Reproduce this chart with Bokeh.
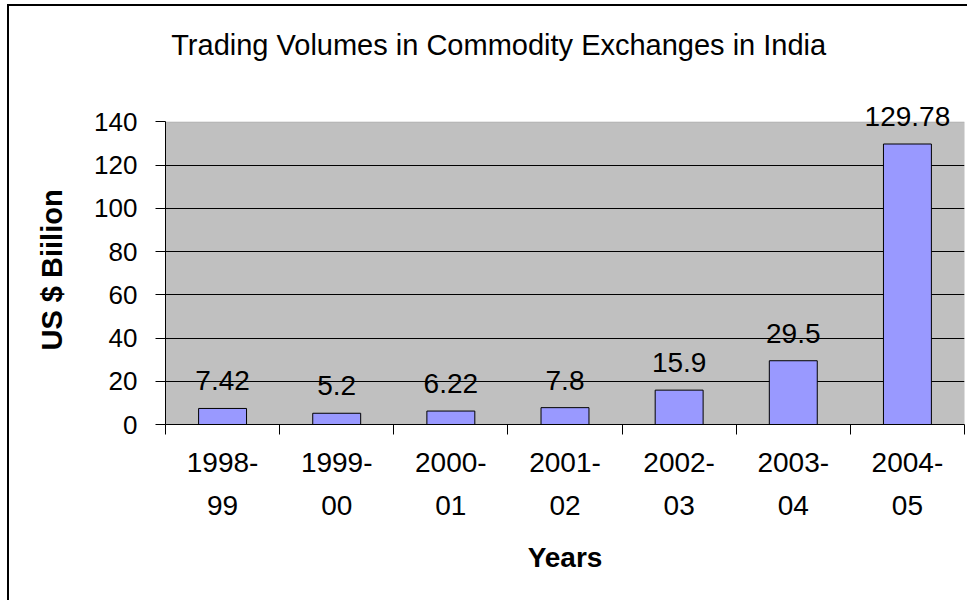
from bokeh.plotting import figure
from bokeh.models import ColumnDataSource, Range1d, FixedTicker, LabelSet, Label, BoxAnnotation, Title
from bokeh.core.properties import value
from bokeh.embed import file_html
from bokeh.resources import INLINE

years = ["1998-99", "1999-00", "2000-01", "2001-02", "2002-03", "2003-04", "2004-05"]
volumes = [7.42, 5.2, 6.22, 7.8, 15.9, 29.5, 129.78]
value_labels = ["7.42", "5.2", "6.22", "7.8", "15.9", "29.5", "129.78"]
y_ticks = [0, 20, 40, 60, 80, 100, 120, 140]
title_text = "Trading Volumes in Commodity Exchanges in India"
x_title = "Years"
y_title = "US $ Biilion"

FONT = "Liberation Sans"
Y_MAX = y_ticks[-1]
HEADROOM = 53.4  # white room above the plot area that holds the chart title

xpos = [i + 0.5 for i in range(len(years))]
src = ColumnDataSource(dict(x=xpos, top=volumes, lab=value_labels))

p = figure(width=960, height=596, output_backend="svg", toolbar_location=None,
           x_range=Range1d(0, len(years)), y_range=Range1d(0, Y_MAX + HEADROOM),
           min_border_left=156, min_border_right=5, min_border_top=0, min_border_bottom=178)

p.background_fill_color = "white"
p.border_fill_color = "white"
p.outline_line_color = None

# grey plot area with its darker grey border
p.add_layout(BoxAnnotation(bottom=0, top=Y_MAX, left=0, right=len(years), fill_color="#C0C0C0",
                           fill_alpha=1, line_color="#808080", line_width=1, level="image"))

p.vbar(x="x", top="top", width=0.42, source=src, fill_color="#9999FF", line_color="black", line_width=1)

labels = LabelSet(x="x", y="top", text="lab", source=src, text_align="center",
                  text_baseline="alphabetic", y_offset=18, text_font=value(FONT),
                  text_font_size=value("28px"), text_color=value("black"), level="overlay")
p.add_layout(labels)

title = Label(x=0.05, y=175.4, text=title_text, text_align="left", text_baseline="alphabetic",
              text_font=FONT, text_font_size="29px", text_color="black", level="overlay")
p.add_layout(title)

# y axis
p.yaxis.ticker = FixedTicker(ticks=y_ticks)
p.yaxis.bounds = (0, Y_MAX)
p.yaxis.major_tick_out = 10
p.yaxis.major_tick_in = 0
p.yaxis.minor_tick_out = 0
p.yaxis.minor_tick_in = 0
p.yaxis.major_label_standoff = 18
p.yaxis.major_label_text_font = FONT
p.yaxis.major_label_text_font_size = "26px"
p.yaxis.major_label_text_color = "black"
p.yaxis.axis_line_color = "black"
p.yaxis.major_tick_line_color = "black"

ytitle = Title(text=y_title, align="left", offset=74, standoff=48, text_font=FONT,
               text_font_size="29px", text_font_style="bold", text_color="black")
p.add_layout(ytitle, "left")

# x axis
p.xaxis.ticker = FixedTicker(ticks=xpos, minor_ticks=list(range(len(years) + 1)))
p.xaxis.major_label_overrides = {x: y.replace("-", "-\n") for x, y in zip(xpos, years)}
p.xaxis.major_tick_out = 0
p.xaxis.major_tick_in = 0
p.xaxis.minor_tick_out = 10
p.xaxis.minor_tick_in = 0
p.xaxis.minor_tick_line_color = "black"
p.xaxis.axis_line_color = "black"
p.xaxis.major_label_standoff = 12
p.xaxis.major_label_text_font = FONT
p.xaxis.major_label_text_font_size = "28px"
p.xaxis.major_label_text_color = "black"
p.xaxis.major_label_text_line_height = 1.4
p.xaxis.axis_label = x_title
p.xaxis.axis_label_text_font = FONT
p.xaxis.axis_label_text_font_size = "28px"
p.xaxis.axis_label_text_font_style = "bold"
p.xaxis.axis_label_text_color = "black"
p.xaxis.axis_label_standoff = 18

p.xgrid.visible = False
p.ygrid.ticker = FixedTicker(ticks=y_ticks[1:-1])
p.ygrid.grid_line_color = "black"
p.ygrid.grid_line_width = 1

p.styles = {"border-left": "2px solid black", "border-top": "2px solid black",
            "margin-left": "7px", "margin-top": "4px"}

open("out.html", "w").write(file_html(p, INLINE))
